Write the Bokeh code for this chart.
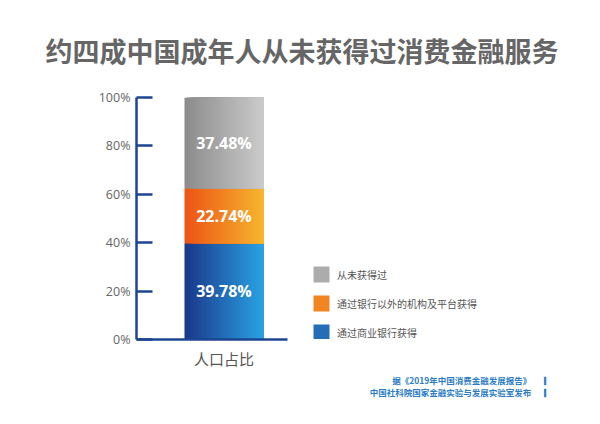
import numpy as np
from bokeh.plotting import figure
from bokeh.models import (Range1d, FixedTicker, Legend, LegendItem, Title,
                          ColumnDataSource)
from bokeh.core.properties import value
from bokeh.embed import file_html
from bokeh.resources import INLINE

# ---------------- data ----------------
title_text = "约四成中国成年人从未获得过消费金融服务"
category = ["人口占比"]
series_names = ["通过商业银行获得", "通过银行以外的机构及平台获得", "从未获得过"]
series_values = [39.78, 22.74, 37.48]
series_labels = ["39.78%", "22.74%", "37.48%"]
y_ticks = [0, 20, 40, 60, 80, 100]
y_tick_labels = ["0%", "20%", "40%", "60%", "80%", "100%"]
source_lines = ["据《2019年中国消费金融发展报告》", "中国社科院国家金融实验与发展实验室发布"]

# ---------------- style ----------------
gradients = [("#1b388b", "#2aa2e2"), ("#ec5416", "#f7b52e"), ("#8c8c8c", "#cacaca")]
axis_color = "#1d4592"
source_color = "#2b7cc4"
CJK = "Noto Sans CJK SC"
LAT = "Open Sans"
N_STRIPS = 60
BAR_W = 0.8


def hex2rgb(h):
    h = h.lstrip("#")
    return np.array([int(h[i:i + 2], 16) for i in (0, 2, 4)], dtype=float)


def lerp_colors(c0, c1, n):
    a, b = hex2rgb(c0), hex2rgb(c1)
    out = []
    for t in np.linspace(0, 1, n):
        c = a + (b - a) * t
        out.append("#%02x%02x%02x" % tuple(int(round(v)) for v in c))
    return out


p = figure(width=600, height=424, output_backend="svg", toolbar_location=None,
           x_range=Range1d(-0.886, 3.711), y_range=Range1d(0, 100),
           min_border_left=136, min_border_right=10, min_border_top=96,
           min_border_bottom=85)
p.outline_line_color = None
p.grid.visible = False
p.background_fill_color = "white"
p.border_fill_color = "white"

# ---------------- title ----------------
p.title.text = title_text
p.title.align = "left"
p.title.offset = -91
p.title.standoff = 56
p.title.text_font = CJK
p.title.text_font_size = "27px"
p.title.text_font_style = "bold"
p.title.text_color = "#666666"

# ---------------- stacked gradient bar ----------------
cat_index = 0
bottoms = np.concatenate([[0], np.cumsum(series_values)[:-1]])
tops = np.cumsum(series_values)
strip_w = BAR_W / N_STRIPS
bar_left = cat_index - BAR_W / 2
bar_right = cat_index + BAR_W / 2
renderers = []
for k, (b, t) in enumerate(zip(bottoms, tops)):
    cols = lerp_colors(gradients[k][0], gradients[k][1], N_STRIPS)
    lefts = bar_left + np.arange(N_STRIPS) * strip_w
    src = ColumnDataSource(dict(left=lefts, right=[bar_right] * N_STRIPS,
                                bottom=[b] * N_STRIPS, top=[t] * N_STRIPS, c=cols))
    r = p.quad(left="left", right="right", bottom="bottom", top="top", source=src,
               fill_color="c", line_color=None)
    renderers.append(r)

mids = (bottoms + tops) / 2
p.text(x=[cat_index] * len(series_values), y=mids, text=series_labels,
       text_align="center", text_baseline="middle", text_color="white",
       text_font_size="16px", text_font_style="bold", text_font=value(LAT))

# ---------------- axes ----------------
p.yaxis.ticker = FixedTicker(ticks=y_ticks)
p.yaxis.major_label_overrides = {t: l for t, l in zip(y_ticks, y_tick_labels)}
p.yaxis.axis_line_color = axis_color
p.yaxis.axis_line_width = 2.5
p.yaxis.major_tick_line_color = axis_color
p.yaxis.major_tick_line_width = 2.5
p.yaxis.major_tick_in = 16
p.yaxis.major_tick_out = 0
p.yaxis.minor_tick_line_color = None
p.yaxis.major_label_text_font = LAT
p.yaxis.major_label_text_font_size = "12.5px"
p.yaxis.major_label_text_color = "#666666"
p.yaxis.major_label_standoff = 6

p.xaxis.ticker = FixedTicker(ticks=[cat_index])
p.xaxis.major_label_overrides = {cat_index: category[0]}
p.xaxis.bounds = (-0.886, 0.643)
p.xaxis.axis_line_color = axis_color
p.xaxis.axis_line_width = 2.5
p.xaxis.major_tick_line_color = None
p.xaxis.minor_tick_line_color = None
p.xaxis.major_label_text_font = CJK
p.xaxis.major_label_text_font_size = "15px"
p.xaxis.major_label_text_color = "#555555"
p.xaxis.major_label_standoff = 2

# ---------------- legend ----------------
items = [LegendItem(label=series_names[k], renderers=[renderers[k]], index=N_STRIPS // 2)
         for k in reversed(range(len(series_names)))]
legend = Legend(items=items, location=(175, -3), glyph_width=20, glyph_height=20,
                label_height=20, spacing=9, padding=0, margin=0, label_standoff=6,
                border_line_color=None, background_fill_alpha=0,
                label_text_font=CJK, label_text_font_size="10px",
                label_text_color="#555555")
p.add_layout(legend, "center")

# ---------------- source note ----------------
for i, line in enumerate(source_lines):
    p.add_layout(Title(text=line + "\u2002\u2002\u2002▎", align="right", offset=38,
                       standoff=0 if i == 0 else -3,
                       text_font=CJK, text_font_size="8.5px", text_font_style="bold",
                       text_color=source_color), "below")

open("out.html", "w").write(file_html(p, INLINE))
